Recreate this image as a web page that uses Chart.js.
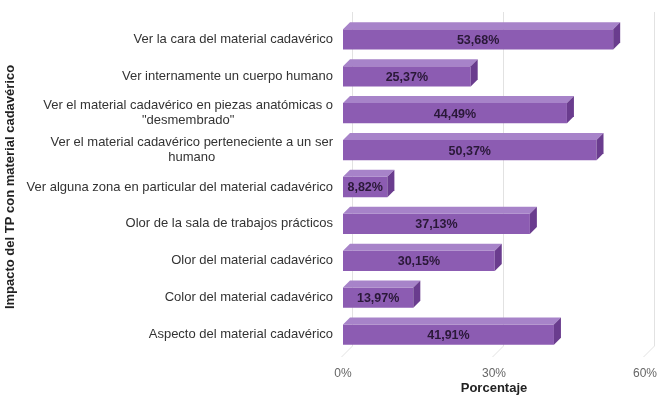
<!DOCTYPE html>
<html>
<head>
<meta charset="utf-8">
<script src="https://cdn.jsdelivr.net/npm/chart.js@4"></script>
<style>
  html, body { margin: 0; padding: 0; background: #fff; }
  #wrap { width: 662px; height: 396px; }
</style>
</head>
<body>
<div id="wrap"><canvas id="grafico"></canvas></div>
<script>
// categorías (de arriba hacia abajo) y porcentajes
const categorias = [
  ['Ver la cara del material cadavérico'],
  ['Ver internamente un cuerpo humano'],
  ['Ver el material cadavérico en piezas anatómicas o', '"desmembrado"'],
  ['Ver el material cadavérico perteneciente a un ser', 'humano'],
  ['Ver alguna zona en particular del material cadavérico'],
  ['Olor de la sala de trabajos prácticos'],
  ['Olor del material cadavérico'],
  ['Color del material cadavérico'],
  ['Aspecto del material cadavérico']
];
const porcentajes = [53.68, 25.37, 44.49, 50.37, 8.82, 37.13, 30.15, 13.97, 41.91];
const ticksX = [0, 30, 60];

const PROF = 7; // profundidad del efecto 3D
const FUENTE = '"Liberation Sans", Arial, sans-serif';

// paredes y piso del fondo con efecto 3D
const fondo3D = {
  id: 'fondo3D',
  beforeDatasetsDraw(chart) {
    const { ctx, chartArea: a, scales: { x } } = chart;
    ctx.save();
    ctx.strokeStyle = '#e2e2e2';
    ctx.lineWidth = 1;
    ticksX.forEach(v => {
      const px = Math.round(x.getPixelForValue(v)) + 0.5;
      ctx.beginPath();
      ctx.moveTo(px + PROF + 2, a.top - PROF - 2);
      ctx.lineTo(px + PROF + 2, a.bottom - PROF);
      ctx.lineTo(px - 2, a.bottom + 4);
      ctx.stroke();
    });
    ctx.restore();
  }
};

// caras superior y lateral de cada barra + etiqueta de valor
const barras3D = {
  id: 'barras3D',
  afterDatasetsDraw(chart) {
    const { ctx } = chart;
    const meta = chart.getDatasetMeta(0);
    ctx.save();
    meta.data.forEach((bar, i) => {
      const { x, y, base, height } = bar.getProps(['x', 'y', 'base', 'height'], true);
      const t = y - height / 2, b = y + height / 2;
      // cara superior
      ctx.fillStyle = '#a783c9';
      ctx.beginPath();
      ctx.moveTo(base, t);
      ctx.lineTo(base + PROF, t - PROF);
      ctx.lineTo(x + PROF, t - PROF);
      ctx.lineTo(x, t);
      ctx.closePath();
      ctx.fill();
      // cara lateral
      ctx.fillStyle = '#6a3c8e';
      ctx.beginPath();
      ctx.moveTo(x, t);
      ctx.lineTo(x + PROF, t - PROF);
      ctx.lineTo(x + PROF, b - PROF);
      ctx.lineTo(x, b);
      ctx.closePath();
      ctx.fill();
      // valor
      ctx.fillStyle = '#2a1838';
      ctx.font = 'bold 12.5px ' + FUENTE;
      ctx.textAlign = 'center';
      ctx.textBaseline = 'middle';
      ctx.fillText(porcentajes[i].toFixed(2).replace('.', ',') + '%', (base + x) / 2, y + 1);
    });
    ctx.restore();
  }
};

// etiquetas del eje Y: bloque alineado a la derecha, líneas centradas
const etiquetasY = {
  id: 'etiquetasY',
  afterDraw(chart) {
    const { ctx, scales: { y }, chartArea: a } = chart;
    ctx.save();
    ctx.font = '13px ' + FUENTE;
    ctx.fillStyle = '#333';
    ctx.textBaseline = 'middle';
    ctx.textAlign = 'center';
    const derecha = a.left - 10;
    const alto = 15;
    categorias.forEach((lineas, i) => {
      const cy = y.getPixelForValue(i);
      const ancho = Math.max(...lineas.map(l => ctx.measureText(l).width));
      const cx = derecha - ancho / 2;
      lineas.forEach((l, j) => {
        ctx.fillText(l, cx, cy + (j - (lineas.length - 1) / 2) * alto);
      });
    });
    ctx.restore();
  }
};

new Chart(document.getElementById('grafico'), {
  type: 'bar',
  data: {
    labels: categorias.map(c => c.join(' ')),
    datasets: [{
      data: porcentajes,
      backgroundColor: '#8c5cb2',
      borderWidth: 0,
      categoryPercentage: 1,
      barPercentage: 0.55
    }]
  },
  options: {
    indexAxis: 'y',
    responsive: true,
    maintainAspectRatio: false,
    animation: false,
    layout: { padding: { top: 21, right: 10, left: 0, bottom: 0 } },
    plugins: { legend: { display: false }, tooltip: { enabled: false } },
    scales: {
      x: {
        min: 0,
        max: 60,
        afterBuildTicks: s => { s.ticks = ticksX.map(v => ({ value: v })); },
        afterFit: s => { s.height = 43; },
        grid: { display: false },
        border: { display: false },
        ticks: {
          padding: 5,
          color: '#666',
          font: { family: FUENTE, size: 12 },
          callback: v => v + '%'
        },
        title: {
          display: true,
          text: 'Porcentaje',
          color: '#222',
          padding: { top: 0, bottom: 0 },
          font: { family: FUENTE, size: 13, weight: 'bold' }
        }
      },
      y: {
        afterFit: s => { s.width = 343; },
        grid: { display: false },
        border: { display: false },
        ticks: { display: false },
        title: {
          display: true,
          text: 'Impacto del TP con material cadavérico',
          color: '#222',
          padding: { top: 3, bottom: 0 },
          font: { family: FUENTE, size: 13, weight: 'bold' }
        }
      }
    }
  },
  plugins: [fondo3D, barras3D, etiquetasY]
});
</script>
</body>
</html>
